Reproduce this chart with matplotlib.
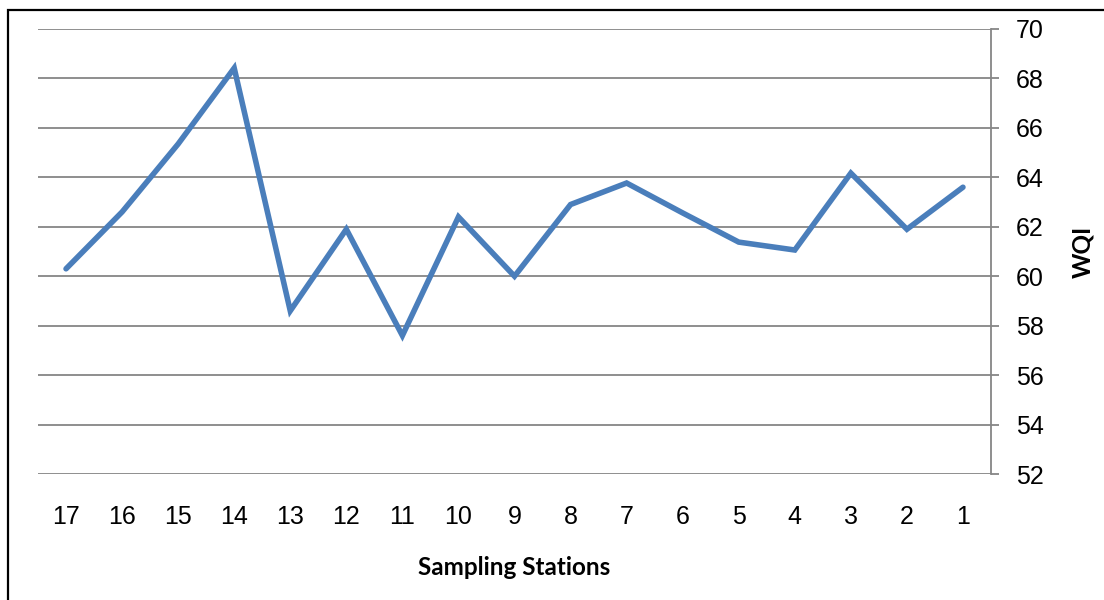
import matplotlib.pyplot as plt
from matplotlib.patches import Rectangle

# WQI per sampling station, listed as drawn (17 down to 1)
stations = ['17', '16', '15', '14', '13', '12', '11', '10', '9',
            '8', '7', '6', '5', '4', '3', '2', '1']
wqi = [60.3, 62.6, 65.35, 68.42, 58.6, 61.9, 57.6, 62.4, 60.0,
       62.9, 63.77, 62.56, 61.38, 61.06, 64.17, 61.9, 63.6]
yticks = [52, 54, 56, 58, 60, 62, 64, 66, 68, 70]

plt.rc('font', family=['Liberation Sans', 'DejaVu Sans'])

fig = plt.figure(figsize=(11.04, 6), dpi=100)
ax = fig.add_axes([38/1104, 126/600, (991-38)/1104, (474-29)/600])

# frame around the whole chart
fig.patches.append(Rectangle((8/1104, -0.05), 1.2, (590/600) + 0.05,
                             transform=fig.transFigure, fill=False,
                             edgecolor='black', linewidth=1.6))

x = list(range(len(stations)))
ax.plot(x, wqi, color='#4A7EBB', linewidth=4.0, solid_joinstyle='miter',
        solid_capstyle='round', zorder=3)

ax.set_xlim(-0.5, len(stations) - 0.5)
ax.set_ylim(52, 70)
ax.set_xticks(x)
ax.set_xticklabels(stations)
ax.set_yticks(yticks)

ax.yaxis.tick_right()
ax.yaxis.set_label_position('right')
ax.grid(axis='y', color='#868686', linewidth=1.3)
ax.set_axisbelow(True)

for side in ['top', 'left', 'bottom']:
    ax.spines[side].set_visible(False)
ax.spines['right'].set_color('#868686')
ax.spines['right'].set_linewidth(1.3)

ax.tick_params(axis='y', direction='out', length=6, width=1.3, color='#868686',
               labelsize=18, pad=12)
ax.tick_params(axis='x', length=0, labelsize=18, pad=22)

ax.set_xlabel('Sampling Stations', fontsize=17.5, fontweight='bold',
              family=['Lato', 'DejaVu Sans'], labelpad=20)
ax.set_ylabel('WQI', fontsize=17.5, fontweight='bold',
              family=['Lato', 'DejaVu Sans'], labelpad=20)

fig.savefig('out.png', dpi=100)
